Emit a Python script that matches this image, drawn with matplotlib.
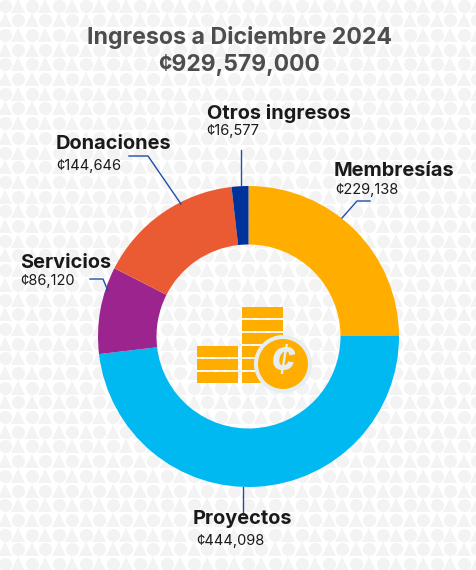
import matplotlib
matplotlib.use("Agg")
import matplotlib.pyplot as plt
from matplotlib.patches import Rectangle, Circle
import numpy as np

W, H = 477, 570

# Data, clockwise from the top
categories = ["Membresías", "Proyectos", "Servicios", "Donaciones", "Otros ingresos"]
values = [229138, 444098, 86120, 144646, 16577]
value_labels = ["¢229,138", "¢444,098", "¢86,120", "¢144,646", "¢16,577"]
colors = ["#FFAE00", "#00B9F1", "#9C248E", "#EA5B33", "#00329B"]
title_lines = ["Ingresos a Diciembre 2024", "¢929,579,000"]

plt.rcParams["font.family"] = ["Inter", "DejaVu Sans"]

fig = plt.figure(figsize=(W / 100, H / 100), dpi=100)
ax = fig.add_axes([0, 0, 1, 1])


def fy(y):
    # y measured from the top of the image
    return H - y


# Background pattern of circles and triangles
for row in range(40):
    y = 5.5 + row * 14.7
    shift = 0 if row % 2 == 0 else 13.5
    xs = np.arange(-27, W + 27, 27)
    ax.plot(xs + 5 + shift, [fy(y)] * len(xs), "o", ms=9.4, mew=0, color="#F3F3F3", zorder=0)
    ax.plot(xs + 18.5 + shift, [fy(y)] * len(xs), "^", ms=9.4, mew=0, color="#F3F3F3", zorder=0)

# Donut
ax.pie(values, colors=colors, startangle=90, counterclock=False,
       center=(248.5, fy(336.5)), radius=150.5,
       wedgeprops={"width": 58.5, "linewidth": 0})
ax.set_xlim(0, W)
ax.set_ylim(0, H)
ax.axis("off")

# Leader lines
line_color = "#1F4FA8"
leaders = [
    ([370, 357, 342], [201, 201, 218]),
    ([243, 243], [487, 515]),
    ([90, 103, 108], [279, 279, 291]),
    ([129, 148, 181], [156, 156, 204]),
    ([241, 241], [150, 186]),
]
for lx, ly in leaders:
    ax.plot(lx, [fy(v) for v in ly], color=line_color, lw=1, zorder=3)

# Title
ax.text(239.5, fy(37), title_lines[0], ha="center", va="center", fontsize=16.7,
        fontweight="bold", color="#4D4D4D")
ax.text(239, fy(65), title_lines[1], ha="center", va="center", fontsize=16.5,
        fontweight="bold", color="#4D4D4D")

# Labels
label_pos = [(334, 171, 335, 190), (193, 519.5, 196, 541), (20, 263, 20, 281),
             (56, 144, 56, 166), (207, 113, 206, 131)]
for name, val, (nx, ny, vx, vy) in zip(categories, value_labels, label_pos):
    ax.text(nx, fy(ny), name, ha="left", va="center", fontsize=14.4,
            fontweight="bold", color="#1A1A1A")
    ax.text(vx, fy(vy), val, ha="left", va="center", fontsize=10.5, color="#1A1A1A")

# Coin icon
coin = "#FFAE00"
for top in [307, 320, 333, 346, 359, 372]:
    ax.add_patch(Rectangle((242, fy(top + 10.5)), 41, 10.5, color=coin, lw=0, zorder=4))
for top in [346, 359, 372]:
    ax.add_patch(Rectangle((197.5, fy(top + 10.5)), 41, 10.5, color=coin, lw=0, zorder=4))
ax.add_patch(Circle((283, fy(364)), 29, color="#E6EEF2", lw=0, zorder=5))
ax.add_patch(Circle((283, fy(364)), 25, color=coin, lw=0, zorder=6))
ax.text(283, fy(363), "¢", ha="center", va="center", fontsize=30, fontweight="bold",
        color="#E6EEF2", style="italic", zorder=7)

fig.savefig("out.png", dpi=100, facecolor="white")
